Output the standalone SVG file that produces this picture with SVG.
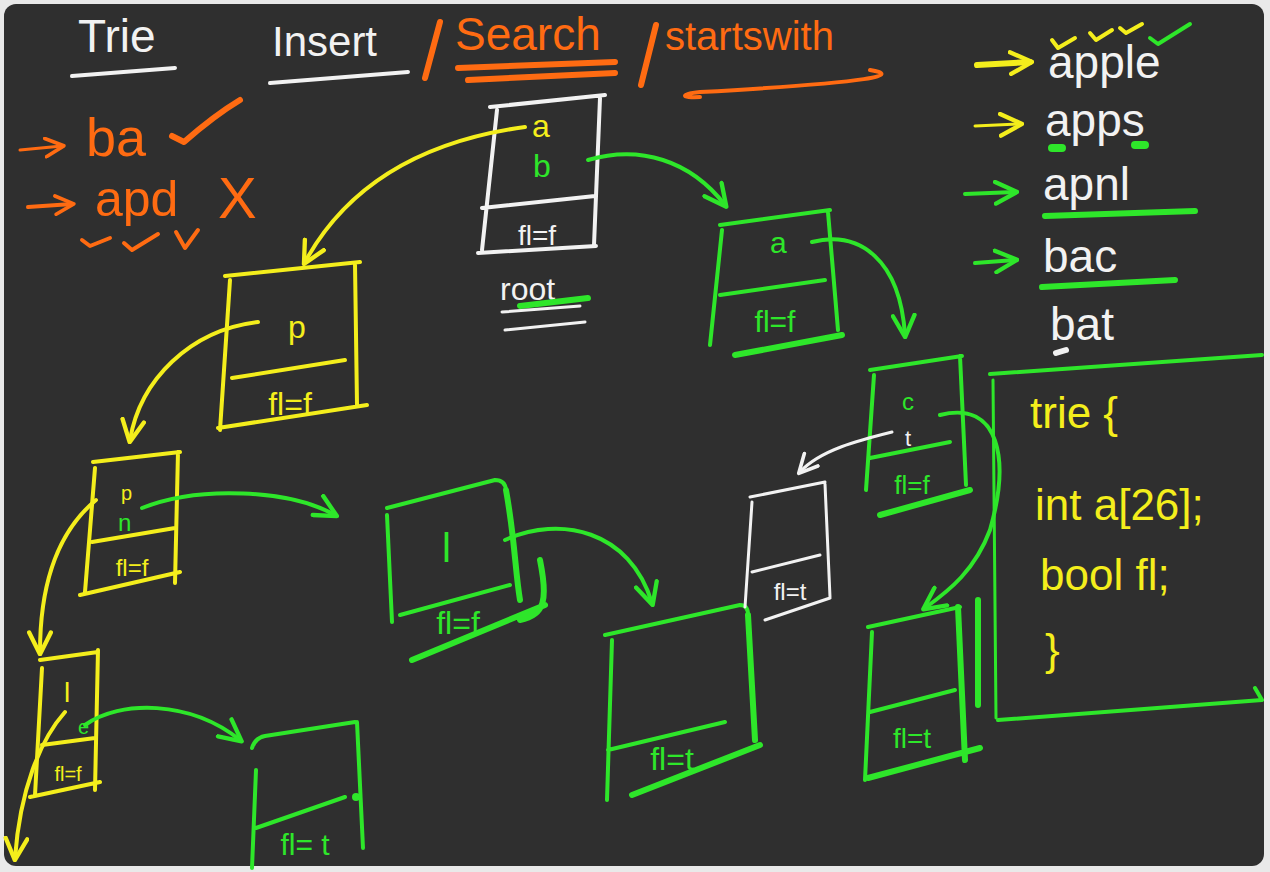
<svg xmlns="http://www.w3.org/2000/svg" width="1270" height="872" viewBox="0 0 1270 872">
<defs>
<style>
.s{fill:none;stroke-linecap:round;stroke-linejoin:round}
.y{stroke:#f4ee1c}.g{stroke:#2ee62a}.w{stroke:#f2f2f2}.o{stroke:#ff6b12}
.t3{stroke-width:3}.t4{stroke-width:4}.t6{stroke-width:6}.t8{stroke-width:8}
text{font-family:"Liberation Sans","DejaVu Sans",sans-serif}
.ty{fill:#f4ee1c}.tg{fill:#2ee62a}.tw{fill:#f2f2f2}.to{fill:#ff6b12}
</style>
<marker id="ay" viewBox="0 0 12 12" refX="10" refY="6" markerUnits="userSpaceOnUse" markerWidth="26" markerHeight="26" orient="auto"><path d="M1,1 L11,6 L1,11" fill="none" stroke="#f4ee1c" stroke-width="2" stroke-linecap="round" stroke-linejoin="round"/></marker>
<marker id="ag" viewBox="0 0 12 12" refX="10" refY="6" markerUnits="userSpaceOnUse" markerWidth="26" markerHeight="26" orient="auto"><path d="M1,1 L11,6 L1,11" fill="none" stroke="#2ee62a" stroke-width="2" stroke-linecap="round" stroke-linejoin="round"/></marker>
<marker id="aw" viewBox="0 0 12 12" refX="10" refY="6" markerUnits="userSpaceOnUse" markerWidth="22" markerHeight="22" orient="auto"><path d="M1,1 L11,6 L1,11" fill="none" stroke="#f2f2f2" stroke-width="2" stroke-linecap="round" stroke-linejoin="round"/></marker>
<marker id="ao" viewBox="0 0 12 12" refX="10" refY="6" markerUnits="userSpaceOnUse" markerWidth="22" markerHeight="22" orient="auto"><path d="M1,1 L11,6 L1,11" fill="none" stroke="#ff6b12" stroke-width="2" stroke-linecap="round" stroke-linejoin="round"/></marker>
</defs>
<rect width="1270" height="872" fill="#e9e9e9"/>
<rect x="4" y="4" width="1260" height="862" rx="12" fill="#2f2f2f"/>

<g id="title">
<text x="78" y="52" font-size="46" class="tw">Trie</text>
<path class="s w t4" d="M72,76 L175,68"/>
<text x="272" y="56" font-size="42" class="tw">Insert</text>
<path class="s w t4" d="M270,83 L408,72"/>
<path class="s o t6" d="M440,22 L425,78"/>
<text x="455" y="50" font-size="46" class="to">Search</text>
<path class="s o t6" d="M458,68 L615,62"/>
<path class="s o t6" d="M468,80 L615,73"/>
<path class="s o t6" d="M656,25 L641,85"/>
<text x="665" y="50" font-size="40" class="to">startswith</text>
<path class="s o t4" d="M870,70 C900,75 880,82 700,92 C680,94 680,98 700,97"/>
</g>

<g id="queries">
<path class="s o t3" d="M20,150 L62,146" marker-end="url(#ao)"/>
<text x="86" y="156" font-size="54" class="to">ba</text>
<path class="s o t6" d="M172,136 L184,142 C200,128 220,112 240,100"/>
<path class="s o t4" d="M28,207 L72,204" marker-end="url(#ao)"/>
<text x="95" y="216" font-size="50" class="to">apd</text>
<text x="218" y="218" font-size="58" class="to">X</text>
<path class="s o t4" d="M82,240 L90,246 L110,238 M124,243 L132,250 L158,234 M176,232 L185,248 L198,230"/>
</g>

<g id="words">
<path class="s y t6" d="M977,65 L1030,62" marker-end="url(#ay)"/>
<text x="1048" y="78" font-size="46" class="tw">apple</text>
<path class="s y t4" d="M1052,40 L1058,48 L1075,38 M1090,33 L1096,40 L1112,30 M1120,28 L1126,33 L1142,24"/>
<path class="s g t4" d="M1150,38 L1158,44 L1190,24"/>
<path class="s y t3" d="M975,126 L1020,124" marker-end="url(#ay)"/>
<text x="1045" y="136" font-size="46" class="tw">apps</text>
<path class="s g t8" d="M1052,148 L1062,148 M1135,145 L1145,145"/>
<path class="s g t4" d="M965,194 L1015,192" marker-end="url(#ag)"/>
<text x="1043" y="200" font-size="46" class="tw">apnl</text>
<path class="s g t6" d="M1045,216 L1195,211"/>
<path class="s g t4" d="M975,263 L1015,260" marker-end="url(#ag)"/>
<text x="1043" y="272" font-size="46" class="tw">bac</text>
<path class="s g t6" d="M1042,287 L1175,280"/>
<text x="1050" y="340" font-size="46" class="tw">bat</text>
<path class="s w t6" d="M1056,353 L1066,350"/>
</g>

<g id="root">
<path class="s w t4" d="M490,107 L605,95 M497,110 L482,250 M600,98 L594,245 M482,208 L595,196 M478,253 L596,246"/>
<text x="532" y="137" font-size="32" class="ty">a</text>
<text x="533" y="177" font-size="32" class="tg">b</text>
<text x="537" y="245" font-size="28" class="tw" text-anchor="middle">fl=f</text>
<text x="500" y="300" font-size="32" class="tw">root</text>
<path class="s g t6" d="M520,306 L588,298"/>
<path class="s w t3" d="M502,312 L580,306 M505,330 L585,322"/>
</g>

<g id="node-a">
<path class="s g t4" d="M720,225 L830,210 M722,230 L710,345 M828,212 L838,330 M720,295 L825,280"/>
<path class="s g t6" d="M735,355 L842,335"/>
<text x="770" y="253" font-size="30" class="tg">a</text>
<text x="775" y="332" font-size="30" class="tg" text-anchor="middle">fl=f</text>
</g>

<g id="node-p">
<path class="s y t4" d="M225,276 L360,262 M230,280 L220,430 M355,264 L357,405 M232,378 L345,360 M218,428 L367,405"/>
<text x="288" y="338" font-size="32" class="ty">p</text>
<text x="290" y="415" font-size="32" class="ty" text-anchor="middle">fl=f</text>
</g>

<g id="node-p2">
<path class="s y t4" d="M93,462 L180,452 M95,468 L85,592 M178,452 L175,583 M92,542 L175,528 M80,595 L180,572"/>
<text x="121" y="500" font-size="20" class="ty">p</text>
<text x="118" y="531" font-size="24" class="tg">n</text>
<text x="132" y="576" font-size="24" class="ty" text-anchor="middle">fl=f</text>
</g>

<g id="node-l1">
<path class="s y t4" d="M40,660 L98,652 M42,668 L35,795 M98,650 L95,790 M42,745 L95,738 M30,797 L100,782"/>
<text x="64" y="702" font-size="28" class="ty">l</text>
<text x="78" y="734" font-size="20" class="tg">e</text>
<text x="68" y="781" font-size="20" class="ty" text-anchor="middle">fl=f</text>
</g>

<g id="node-e">
<path class="s g t4" d="M252,748 Q255,738 265,736 L355,722 M256,770 L252,868 M357,722 L363,848 M256,828 L345,797"/>
<circle cx="356" cy="797" r="4" fill="#2ee62a"/>
<text x="305" y="855" font-size="30" class="tg" text-anchor="middle">fl= t</text>
</g>

<g id="node-l2">
<path class="s g t4" d="M387,508 L495,480 Q505,480 506,490 M387,515 L392,622 M400,615 L510,585"/>
<path class="s g t6" d="M506,490 C515,540 515,570 520,600 M412,660 L545,605 M520,620 C545,615 548,600 540,560"/>
<text x="442" y="562" font-size="40" class="tg">l</text>
<text x="458" y="634" font-size="32" class="tg" text-anchor="middle">fl=f</text>
</g>

<g id="node-l2-child">
<path class="s g t4" d="M605,635 L740,605 Q748,605 748,615 M612,640 L607,800 M608,750 L725,722"/>
<path class="s g t6" d="M748,615 L755,740 M632,795 L760,745"/>
<text x="672" y="770" font-size="32" class="tg" text-anchor="middle">fl=t</text>
</g>

<g id="node-c">
<path class="s g t4" d="M870,370 L962,356 M874,375 L866,490 M960,356 L966,485 M870,458 L950,442"/>
<path class="s g t6" d="M880,515 L970,490"/>
<text x="902" y="410" font-size="24" class="tg">c</text>
<text x="905" y="446" font-size="22" class="tw">t</text>
<text x="912" y="494" font-size="26" class="tg" text-anchor="middle">fl=f</text>
</g>

<g id="node-t">
<path class="s w t3" d="M750,497 L825,482 M752,502 L745,607 M825,484 L830,597 M752,572 L820,555 M765,620 L830,598"/>
<text x="790" y="600" font-size="24" class="tw" text-anchor="middle">fl=t</text>
</g>

<g id="node-c-child">
<path class="s g t4" d="M868,627 L960,607 M872,632 L865,780 M870,712 L955,690"/>
<path class="s g t6" d="M958,607 L965,760 M868,778 L980,748"/>
<text x="912" y="748" font-size="28" class="tg" text-anchor="middle">fl=t</text>
</g>

<g id="struct">
<path class="s g t4" d="M990,374 L1262,355"/>
<path class="s g t3" d="M993,380 L996,718"/>
<path class="s g t6" d="M978,600 L978,705"/>
<path class="s g t4" d="M998,720 L1262,700 M1255,688 L1262,700"/>
<text x="1030" y="428" font-size="44" class="ty">trie {</text>
<text x="1035" y="520" font-size="44" class="ty">int a[26];</text>
<text x="1040" y="590" font-size="44" class="ty">bool fl;</text>
<text x="1045" y="665" font-size="44" class="ty">}</text>
</g>

<g id="connectors">
<path class="s y t4" d="M525,127 C430,140 350,180 305,262" marker-end="url(#ay)"/>
<path class="s g t4" d="M588,160 C640,145 690,160 725,205" marker-end="url(#ag)"/>
<path class="s y t4" d="M258,322 C190,330 140,380 130,440" marker-end="url(#ay)"/>
<path class="s y t4" d="M96,500 C60,530 40,580 40,652" marker-end="url(#ay)"/>
<path class="s g t4" d="M142,508 C200,485 290,490 335,515" marker-end="url(#ag)"/>
<path class="s y t4" d="M65,712 C40,740 20,790 15,858" marker-end="url(#ay)"/>
<path class="s g t4" d="M85,725 C120,700 190,700 240,740" marker-end="url(#ag)"/>
<path class="s g t4" d="M505,540 C560,515 630,530 652,603" marker-end="url(#ag)"/>
<path class="s g t4" d="M812,242 C860,230 900,260 905,335" marker-end="url(#ag)"/>
<path class="s w t3" d="M892,432 C860,440 820,450 800,472" marker-end="url(#aw)"/>
<path class="s g t4" d="M940,415 C1000,400 1010,460 990,530 C975,570 950,590 925,608" marker-end="url(#ag)"/>
</g>
</svg>
